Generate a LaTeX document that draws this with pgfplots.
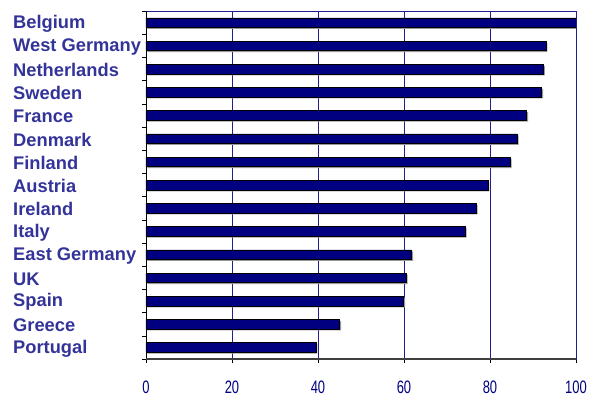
\documentclass[border=0pt]{standalone}
\usepackage{fontspec}
\setmainfont{Liberation Sans}
\usepackage{graphicx}
\usepackage{pgfplots}
\pgfplotsset{compat=1.18}
\definecolor{navybar}{HTML}{000080}
\definecolor{labelblue}{HTML}{333399}
\definecolor{gridnavy}{HTML}{1F1F8F}
\begin{document}
\begin{tikzpicture}
\begin{axis}[
  at={(0,0)}, anchor=south west,
  scale only axis, width=430bp, height=348bp,
  xmin=0, xmax=100, ymin=-0.5, ymax=14.5, y dir=reverse,
  xbar, bar width=9.5bp,
  xtick={0,20,40,60,80,100},
  ytick={0,...,14},
  yticklabels={Belgium,West Germany,Netherlands,Sweden,France,Denmark,Finland,Austria,Ireland,Italy,East Germany,UK,Spain,Greece,Portugal},
  minor ytick={-0.5,0.5,...,14.5},
  xtick pos=bottom, ytick pos=left,
  tick align=outside,
  major tick length=4bp, minor tick length=4bp,
  major y tick style={draw=none},
  tick style={black, line width=0.6bp},
  xmajorgrids, grid style={gridnavy, line width=0.8bp},
  axis line style={gridnavy, line width=0.6bp},
  /pgf/number format/assume math mode=true,
  xticklabel={\scalebox{0.72}[1]{\pgfmathprintnumber{\tick}}},
  xticklabel style={font=\fontsize{18bp}{20bp}\selectfont, text=navybar, yshift=-14bp},
  yticklabel style={font=\bfseries\fontsize{18.3bp}{20bp}\selectfont, text=labelblue, anchor=west, xshift=-129bp, yshift=-1bp, inner xsep=0pt},
]
\addplot[fill=navybar, draw=black, line width=0.5bp,
  preaction={fill=gray!80, draw=none, transform canvas={xshift=1.5bp, yshift=-1.5bp}}]
  coordinates {
  (100,0) (93.0,1) (92.4,2) (92.0,3) (88.5,4) (86.3,5) (84.7,6) (79.5,7)
  (76.8,8) (74.2,9) (61.8,10) (60.5,11) (59.9,12) (45.0,13) (39.5,14)
  };
\draw[black, line width=0.8bp] (rel axis cs:0,0) -- (rel axis cs:0,1);
\draw[black!75, line width=1.5bp] (rel axis cs:0,0) -- (rel axis cs:1,0);
\end{axis}
\pgfresetboundingbox
\path[use as bounding box] (-146bp,-37bp) rectangle (443bp,359bp);
\end{tikzpicture}
\end{document}
